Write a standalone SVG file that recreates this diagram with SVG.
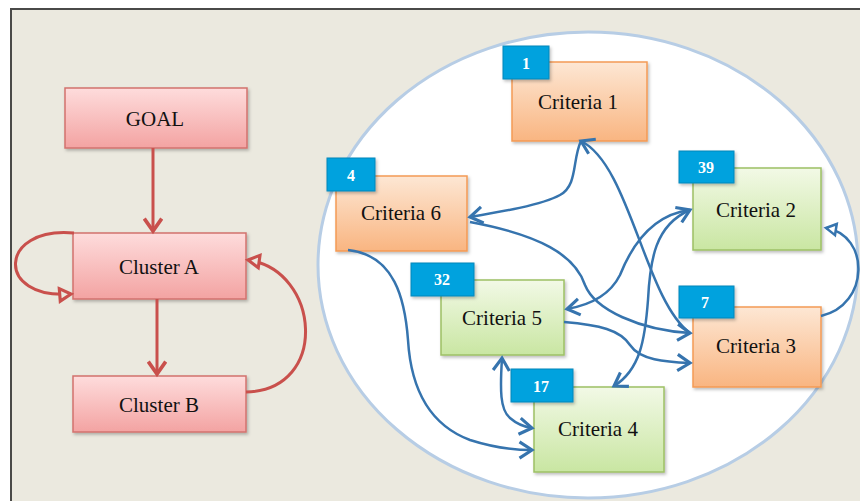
<svg xmlns="http://www.w3.org/2000/svg" width="860" height="501" viewBox="0 0 860 501">
<defs>
<linearGradient id="gRed" x1="0" y1="0" x2="0" y2="1"><stop offset="0" stop-color="#FEDCDC"/><stop offset="1" stop-color="#F3A3A2"/></linearGradient>
<linearGradient id="gOrange" x1="0" y1="0" x2="0" y2="1"><stop offset="0" stop-color="#FDE7D4"/><stop offset="1" stop-color="#F9B581"/></linearGradient>
<linearGradient id="gGreen" x1="0" y1="0" x2="0" y2="1"><stop offset="0" stop-color="#F2F9E6"/><stop offset="1" stop-color="#C9E6A2"/></linearGradient>
<filter id="sh" x="-10%" y="-10%" width="130%" height="130%"><feDropShadow dx="1.5" dy="2" stdDeviation="1.5" flood-color="#000" flood-opacity="0.25"/></filter>
<marker id="chevR" markerUnits="userSpaceOnUse" markerWidth="20" markerHeight="20" viewBox="-12 -8 14 16" refX="0" refY="0" orient="auto"><path d="M-10,-7 L0,0 L-10,7" fill="none" stroke="#C9504C" stroke-width="3"/></marker>
<marker id="triR" markerUnits="userSpaceOnUse" markerWidth="20" markerHeight="20" viewBox="-12 -8 14 16" refX="0" refY="0" orient="auto"><path d="M-9,-5 L0,0 L-9,5 Z" fill="#EBE9DF" stroke="#C9504C" stroke-width="2.5"/></marker>
<marker id="chevB" markerUnits="userSpaceOnUse" markerWidth="20" markerHeight="20" viewBox="-12 -8 14 16" refX="0" refY="0" orient="auto-start-reverse"><path d="M-10,-6.5 L0,0 L-10,6.5" fill="none" stroke="#3674AE" stroke-width="2.5"/></marker>
<marker id="triB" markerUnits="userSpaceOnUse" markerWidth="20" markerHeight="20" viewBox="-12 -8 14 16" refX="0" refY="0" orient="auto"><path d="M-8,-4.5 L0,0 L-8,4.5 Z" fill="#FFFFFF" stroke="#3674AE" stroke-width="2"/></marker>
</defs>
<style>
.red{fill:url(#gRed);stroke:#D2726E;stroke-width:1.5;filter:url(#sh)}
.org{fill:url(#gOrange);stroke:#F39A55;stroke-width:1.5;filter:url(#sh)}
.grn{fill:url(#gGreen);stroke:#9DC064;stroke-width:1.5;filter:url(#sh)}
.bdg{fill:#00A2DE;stroke:#0A86BA;stroke-width:1;filter:url(#sh)}
.lbl{font-family:"Liberation Serif","Times New Roman",serif;font-size:21px;fill:#111;text-anchor:middle}
.num{font-family:"Liberation Serif","Times New Roman",serif;font-size:16px;font-weight:bold;fill:#FFFFFF;text-anchor:middle}
.rc{fill:none;stroke:#C9504C;stroke-width:3}
.bc{fill:none;stroke:#3674AE;stroke-width:2.5}
</style>
<rect x="0" y="0" width="860" height="501" fill="#FFFFFF"/>
<rect x="11" y="9" width="870" height="500" fill="#EBE9DF" stroke="#4A4A48" stroke-width="2"/>
<ellipse cx="588" cy="265" rx="270" ry="233" fill="#FFFFFF" stroke="#B7CDE5" stroke-width="3"/>

<g id="goal"><rect class="red" x="65" y="88" width="182" height="60"/><text class="lbl" x="155" y="126">GOAL</text></g>
<g id="clusterA"><rect class="red" x="73" y="233" width="173" height="66"/><text class="lbl" x="159" y="274">Cluster A</text></g>
<g id="clusterB"><rect class="red" x="73" y="376" width="173" height="56"/><text class="lbl" x="159" y="412">Cluster B</text></g>

<g id="criteria1"><rect class="org" x="512" y="62" width="135" height="79"/><rect class="bdg" x="503" y="46" width="46" height="33"/><text class="num" x="526" y="69">1</text><text class="lbl" x="578" y="109">Criteria 1</text></g>
<g id="criteria2"><rect class="grn" x="693" y="168" width="128" height="82"/><rect class="bdg" x="679" y="151" width="55" height="32"/><text class="num" x="706" y="173">39</text><text class="lbl" x="756" y="217">Criteria 2</text></g>
<g id="criteria3"><rect class="org" x="693" y="307" width="128" height="80"/><rect class="bdg" x="679" y="286" width="55" height="32"/><text class="num" x="705" y="308">7</text><text class="lbl" x="756" y="353">Criteria 3</text></g>
<g id="criteria6"><rect class="org" x="336" y="176" width="131" height="75"/><rect class="bdg" x="327" y="158" width="48" height="33"/><text class="num" x="351" y="181">4</text><text class="lbl" x="401" y="220">Criteria 6</text></g>
<g id="criteria5"><rect class="grn" x="441" y="280" width="123" height="75"/><rect class="bdg" x="411" y="263" width="63" height="33"/><text class="num" x="442" y="285">32</text><text class="lbl" x="502" y="325">Criteria 5</text></g>
<g id="criteria4"><rect class="grn" x="534" y="387" width="130" height="85"/><rect class="bdg" x="511" y="369" width="62" height="33"/><text class="num" x="541" y="392">17</text><text class="lbl" x="598" y="436">Criteria 4</text></g>

<g id="connectors">
<path class="rc" d="M153,148 L153,231" marker-end="url(#chevR)"/>
<path class="rc" d="M157,299 L157,374" marker-end="url(#chevR)"/>
<path class="rc" d="M74,233 C-2,226 -5,300 71,294" marker-end="url(#triR)"/>
<path class="rc" d="M246,392 C330,390 320,270 248,260" marker-end="url(#triR)"/>

<path class="bc" d="M690,333 C645,300 630,165 581,141" marker-end="url(#chevB)"/>
<path class="bc" d="M581,141 C572,160 578,185 560,195 S500,212 470,217" marker-end="url(#chevB)"/>
<path class="bc" d="M470,222 C540,235 575,255 585,285 C595,310 640,330 690,333" marker-end="url(#chevB)"/>
<path class="bc" d="M690,210 C650,215 630,250 620,275 C610,295 590,305 567,309" marker-end="url(#chevB)"/>
<path class="bc" d="M614,386 C640,370 645,340 648,300 C650,260 655,225 690,210" marker-start="url(#chevB)" marker-end="url(#chevB)"/>
<path class="bc" d="M564,322 C600,325 620,330 630,345 C640,360 665,362 690,363" marker-end="url(#chevB)"/>
<path class="bc" d="M348,250 C395,255 405,300 408,340 C411,390 430,425 470,440 C495,448 515,450 532,450" marker-end="url(#chevB)"/>
<path class="bc" d="M502,358 C500,390 500,410 510,418 C518,425 525,427 532,428" marker-start="url(#chevB)" marker-end="url(#chevB)"/>
<path class="bc" d="M821,316 C870,305 870,235 826,228" marker-end="url(#triB)"/>
</g>
</svg>
